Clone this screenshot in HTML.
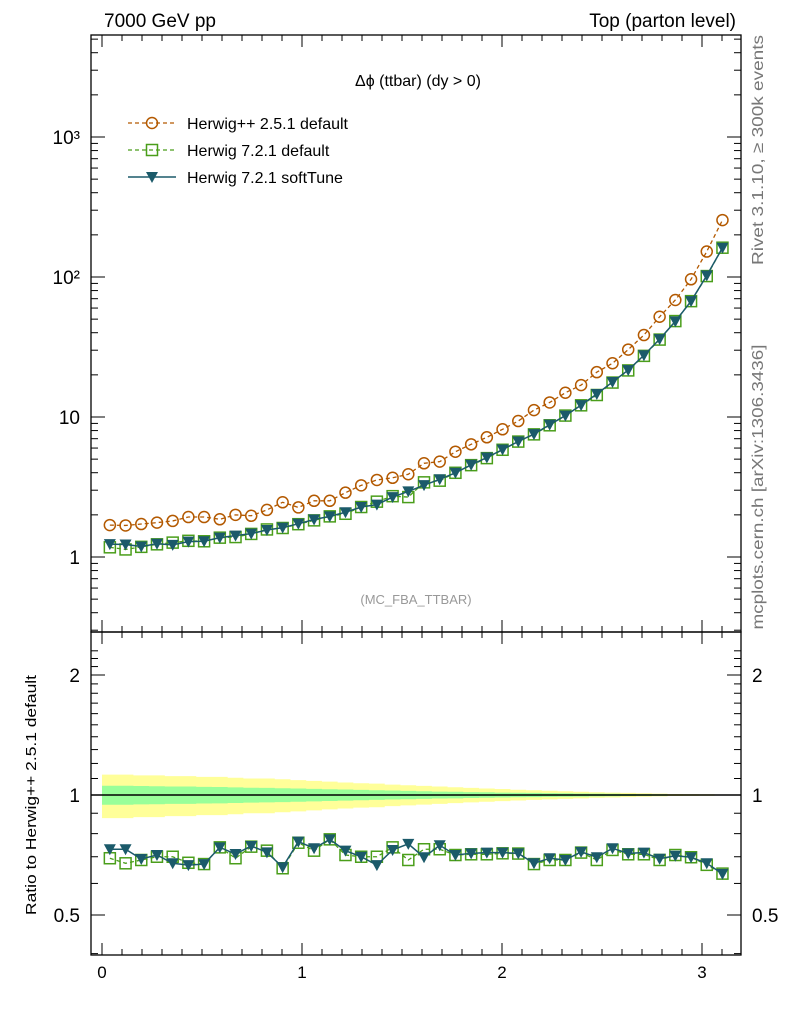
<!DOCTYPE html>
<html><head><meta charset="utf-8">
<style>
html,body{margin:0;padding:0;background:#fff;}
svg{display:block;font-family:"Liberation Sans","DejaVu Sans",sans-serif;}
</style></head>
<body>
<svg id="chart" width="786" height="1024" viewBox="0 0 786 1024" xmlns="http://www.w3.org/2000/svg">
<text x="104" y="27" font-size="19">7000 GeV pp</text>
<text x="736" y="27" font-size="19" text-anchor="end">Top (parton level)</text>
<text x="418" y="86" font-size="16" text-anchor="middle">Δϕ (ttbar) (dy &gt; 0)</text>
<text x="416" y="604" font-size="13" fill="#999" text-anchor="middle">(MC_FBA_TTBAR)</text>
<text transform="translate(763,150) rotate(-90)" font-size="16" fill="#777" text-anchor="middle" textLength="230" lengthAdjust="spacingAndGlyphs">Rivet 3.1.10, ≥ 300k events</text>
<text transform="translate(763,487) rotate(-90)" font-size="16" fill="#777" text-anchor="middle" textLength="285" lengthAdjust="spacingAndGlyphs">mcplots.cern.ch [arXiv:1306.3436]</text>
<text transform="translate(36,795) rotate(-90)" font-size="15" text-anchor="middle" textLength="240" lengthAdjust="spacingAndGlyphs">Ratio to Herwig++ 2.5.1 default</text>
<g id="bands"></g>
<g id="axes"></g>
<g id="series"></g>
<g>
 <g>
  <line x1="128" y1="123" x2="176" y2="123" stroke="#b35900" stroke-width="1.3" stroke-dasharray="4,3"/>
  <circle cx="152" cy="123" r="5.5" fill="none" stroke="#b35900" stroke-width="1.5"/>
  <text x="187" y="129" font-size="16">Herwig++ 2.5.1 default</text>
 </g>
 <g>
  <line x1="128" y1="150" x2="176" y2="150" stroke="#4a9e1a" stroke-width="1.3" stroke-dasharray="4,3"/>
  <rect x="146.5" y="144.5" width="11" height="11" fill="none" stroke="#4a9e1a" stroke-width="1.5"/>
  <text x="187" y="156" font-size="16">Herwig 7.2.1 default</text>
 </g>
 <g>
  <line x1="128" y1="177" x2="176" y2="177" stroke="#1b5a6a" stroke-width="1.5"/>
  <path d="M146,172 L158,172 L152,183 Z" fill="#1b5a6a"/>
  <text x="187" y="183" font-size="16">Herwig 7.2.1 softTune</text>
 </g>
</g>
</svg>
<script>
const ref = [1.69,1.68,1.72,1.76,1.81,1.93,1.93,1.86,2.0,1.97,2.17,2.46,2.26,2.52,2.52,2.88,3.25,3.55,3.68,3.90,4.67,4.80,5.65,6.38,7.16,8.17,9.36,11.2,12.7,14.9,16.9,20.9,24.2,30.3,38.5,52.0,68.5,96.3,152,255];
const ratio721 = [0.694,0.674,0.687,0.700,0.700,0.676,0.671,0.739,0.694,0.742,0.725,0.655,0.759,0.725,0.774,0.707,0.700,0.700,0.739,0.687,0.731,0.731,0.707,0.710,0.710,0.714,0.713,0.671,0.687,0.687,0.717,0.687,0.728,0.710,0.710,0.687,0.707,0.698,0.668,0.635];
const ratioSoft = [0.731,0.731,0.691,0.707,0.674,0.667,0.671,0.739,0.711,0.745,0.718,0.659,0.764,0.735,0.774,0.725,0.700,0.667,0.728,0.754,0.698,0.748,0.707,0.714,0.717,0.717,0.714,0.674,0.694,0.687,0.720,0.698,0.735,0.714,0.717,0.692,0.704,0.698,0.674,0.634];
const yellowErr = [0.125,0.125,0.12,0.12,0.115,0.115,0.11,0.11,0.105,0.10,0.10,0.095,0.09,0.085,0.08,0.075,0.07,0.068,0.062,0.058,0.054,0.05,0.046,0.042,0.038,0.035,0.031,0.028,0.025,0.022,0.019,0.016,0.014,0.012,0.01,0.008,0.006,0.005,0.004,0.003];
const greenErr = [0.055,0.055,0.053,0.052,0.05,0.05,0.048,0.047,0.045,0.043,0.042,0.04,0.038,0.036,0.034,0.032,0.03,0.028,0.026,0.024,0.022,0.02,0.019,0.017,0.016,0.014,0.013,0.012,0.011,0.01,0.009,0.008,0.007,0.006,0.005,0.004,0.003,0.003,0.002,0.002];
const xTicks = [0,1,2,3];
const mainTicks = [1,10,100,1000];
const mainTickLabels = ["1","10","10²","10³"];
const ratioTicks = [0.5,1,2];
const ratioTickLabels = ["0.5","1","2"];

const NS="http://www.w3.org/2000/svg";
const L=91,R=741,MT=35,MB=632,RT=632,RB=955;
const X=v=>102+v*200;
const Y=v=>557-Math.log10(v)*140;
const YR=v=>795-Math.log10(v)*398.6;
const nb=ref.length, bw=Math.PI/nb;
const xc=i=>(i+0.5)*bw;
function mk(parent,tag,attrs){const e=document.createElementNS(NS,tag);for(const k in attrs)e.setAttribute(k,attrs[k]);parent.appendChild(e);return e;}
const axes=document.getElementById('axes'),series=document.getElementById('series'),bands=document.getElementById('bands');

function band(err,color,name){
  let top='',bot='';
  for(let i=0;i<nb;i++){const x0=X(i*bw),x1=X((i+1)*bw);
    top+=(i?'L':'M')+x0+','+YR(1+err[i])+' L'+x1+','+YR(1+err[i])+' ';}
  for(let i=nb-1;i>=0;i--){const x0=X(i*bw),x1=X((i+1)*bw);
    bot+='L'+x1+','+YR(1-err[i])+' L'+x0+','+YR(1-err[i])+' ';}
  const p=mk(bands,'path',{d:top+bot+'Z',fill:color});
  
  
}
band(yellowErr,'#ffff99','yellow-uncertainty-band');
band(greenErr,'#99ff99','green-uncertainty-band');
const one=mk(bands,'line',{x1:L,x2:R,y1:YR(1),y2:YR(1),stroke:'#000','stroke-width':1.5});



for(const [t,b,n] of [[MT,MB,'main-frame'],[RT,RB,'ratio-frame']]){
  const r=mk(axes,'rect',{x:L,y:t,width:R-L,height:b-t,fill:'none',stroke:'#000','stroke-width':1.3});
  
  
}
for(let v=0;v<=3.2;v+=0.1){const vv=Math.round(v*10)/10;const maj=Math.abs(vv-Math.round(vv))<1e-6;const len=maj?12:6;
  for(const [t,b] of [[MT,MB],[RT,RB]]){
    mk(axes,'line',{x1:X(vv),x2:X(vv),y1:b,y2:b-len,stroke:'#000'});
    mk(axes,'line',{x1:X(vv),x2:X(vv),y1:t,y2:t+len,stroke:'#000'});
  }}
xTicks.forEach(v=>{const t=mk(axes,'text',{x:X(v),y:978,'font-size':17,'text-anchor':'middle'});t.textContent=String(v);
  
  });
for(let d=-1;d<=3;d++)for(let m=1;m<10;m++){const v=m*Math.pow(10,d);const y=Y(v);if(y<MT||y>MB)continue;const len=m==1?14:7;
  mk(axes,'line',{x1:L,x2:L+len,y1:y,y2:y,stroke:'#000'});mk(axes,'line',{x1:R,x2:R-len,y1:y,y2:y,stroke:'#000'});}
mainTicks.forEach((v,i)=>{const t=mk(axes,'text',{x:80,y:Y(v)+7,'font-size':19,'text-anchor':'end'});t.textContent=mainTickLabels[i];
  
  });
for(let k=4;k<=23;k++){const v=k/10;const y=YR(v);if(y<RT||y>RB)continue;const maj=(k==5||k==10||k==20);const len=maj?14:7;
  mk(axes,'line',{x1:L,x2:L+len,y1:y,y2:y,stroke:'#000'});mk(axes,'line',{x1:R,x2:R-len,y1:y,y2:y,stroke:'#000'});}
ratioTicks.forEach((v,i)=>{for(const [x,a] of [[80,'end'],[752,'start']]){const t=mk(axes,'text',{x:x,y:YR(v)+7,'font-size':19,'text-anchor':a});t.textContent=ratioTickLabels[i];
  
  }});

const h721=ref.map((v,i)=>v*ratio721[i]);
const soft=ref.map((v,i)=>v*ratioSoft[i]);
function line(pts,color,dash,w,name){const l=mk(series,'polyline',{points:pts.map(p=>p.join(',')).join(' '),fill:'none',stroke:color,'stroke-width':w});
  if(dash)l.setAttribute('stroke-dasharray',dash);
  
  }
function markers(pts,type,color,name){pts.forEach(([x,y])=>{let e;
  if(type=='c')e=mk(series,'circle',{cx:x,cy:y,r:5.5,fill:'none',stroke:color,'stroke-width':1.5});
  else if(type=='s')e=mk(series,'rect',{x:x-5.5,y:y-5.5,width:11,height:11,fill:'none',stroke:color,'stroke-width':1.5});
  else e=mk(series,'path',{d:`M${x-6},${y-5} L${x+6},${y-5} L${x},${y+6} Z`,fill:color});
  
  });}
const pRef=ref.map((v,i)=>[X(xc(i)),Y(v)]);
const p721=h721.map((v,i)=>[X(xc(i)),Y(v)]);
const pSoft=soft.map((v,i)=>[X(xc(i)),Y(v)]);
const r721=ratio721.map((v,i)=>[X(xc(i)),YR(v)]);
const rSoft=ratioSoft.map((v,i)=>[X(xc(i)),YR(v)]);
line(pRef,'#b35900','4,3',1.3,'herwigpp-line');
line(p721,'#4a9e1a','4,3',1.3,'herwig721-line');
line(r721,'#4a9e1a','4,3',1.3,'herwig721-ratio-line');
markers(pRef,'c','#b35900','herwigpp-point');
markers(p721,'s','#4a9e1a','herwig721-point');
markers(r721,'s','#4a9e1a','herwig721-ratio-point');
line(pSoft,'#1b5a6a',null,1.5,'softtune-line');
line(rSoft,'#1b5a6a',null,1.5,'softtune-ratio-line');
markers(pSoft,'t','#1b5a6a','softtune-point');
markers(rSoft,'t','#1b5a6a','softtune-ratio-point');
</script>
</body></html>
